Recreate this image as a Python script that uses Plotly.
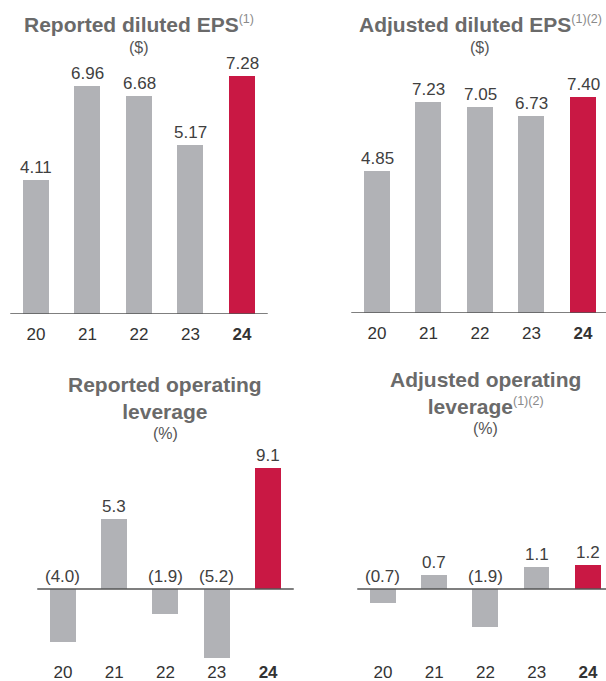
import plotly.graph_objects as go

years = ["20", "21", "22", "23", "24"]
tick_text = ["20", "21", "22", "23", "<b>24</b>"]

reported_eps = [4.11, 6.96, 6.68, 5.17, 7.28]
adjusted_eps = [4.85, 7.23, 7.05, 6.73, 7.40]
reported_lev = [-4.0, 5.3, -1.9, -5.2, 9.1]
adjusted_lev = [-0.7, 0.7, -1.9, 1.1, 1.2]

eps_labels_rep = ["4.11", "6.96", "6.68", "5.17", "7.28"]
eps_labels_adj = ["4.85", "7.23", "7.05", "6.73", "7.40"]
lev_labels_rep = ["(4.0)", "5.3", "(1.9)", "(5.2)", "9.1"]
lev_labels_adj = ["(0.7)", "0.7", "(1.9)", "1.1", "1.2"]

titles = [
    ("Reported diluted EPS", "(1)", "($)"),
    ("Adjusted diluted EPS", "(1)(2)", "($)"),
    ("Reported operating<br>leverage", "", "(%)"),
    ("Adjusted operating<br>leverage", "(1)(2)", "(%)"),
]

GRAY = "#b1b2b6"
RED = "#c91844"
FONT = "Liberation Sans, Arial, sans-serif"
W, H = 606, 681

def px_x(p):
    return p / W

def px_y(p):
    return 1 - p / H

panels = [
    dict(data=reported_eps, labels=eps_labels_rep, xl=10.25, xr=267.75, xmax=4.5,
         yt=64, yb=314, yr=[0, 250 / 32.7], tick_len=5),
    dict(data=adjusted_eps, labels=eps_labels_adj, xl=351.25, xr=606, xmax=4.5 - 2.75 / 51.5,
         yt=64, yb=313, yr=[0, 249 / 29.2], tick_len=5),
    dict(data=reported_lev, labels=lev_labels_rep, xl=37.25, xr=293.75, xmax=4.5,
         yt=450, yb=660, yr=[-71 / 13.3, 139 / 13.3], tick_len=0),
    dict(data=adjusted_lev, labels=lev_labels_adj, xl=357.25, xr=606, xmax=4.5 - 7.75 / 51.5,
         yt=450, yb=660, yr=[-71 / 20.0, 139 / 20.0], tick_len=0),
]

fig = go.Figure()
annotations = []
shapes = []

for i, p in enumerate(panels):
    n = "" if i == 0 else str(i + 1)
    xa, ya = "x" + n, "y" + n
    colors = [GRAY] * 4 + [RED]
    fig.add_trace(go.Bar(
        x=years, y=p["data"], marker=dict(color=colors, line=dict(width=0)),
        width=0.505, xaxis=xa, yaxis=ya, showlegend=False, hoverinfo="skip",
    ))
    for j, (v, lab) in enumerate(zip(p["data"], p["labels"])):
        annotations.append(dict(
            x=j, y=max(v, 0), xref=xa, yref=ya, text=lab, showarrow=False,
            yanchor="bottom", yshift=1,
            font=dict(family=FONT, size=17, color="#404040"),
        ))
    shapes.append(dict(
        type="line", xref=xa + " domain", yref=ya, x0=0, x1=1, y0=0, y1=0,
        line=dict(color="#555555", width=1.6), layer="above",
    ))
    fig.update_layout(**{
        ("xaxis" + n): dict(
            domain=[px_x(p["xl"]), px_x(p["xr"])], range=[-0.5, p["xmax"]],
            anchor=ya, type="category", tickvals=years, ticktext=tick_text,
            ticks="outside" if p["tick_len"] else "", ticklen=max(p["tick_len"], 1),
            tickcolor="rgba(0,0,0,0)",
            showline=False, showgrid=False, zeroline=False, fixedrange=True,
            tickfont=dict(family=FONT, size=17, color="#333333"),
        ),
        ("yaxis" + n): dict(
            domain=[px_y(p["yb"]), px_y(p["yt"])], range=p["yr"], anchor=xa,
            visible=False, showgrid=False, zeroline=False, fixedrange=True,
        ),
    })

title_pos = [
    (139, 24, 48),
    (480, 24, 48),
    (165, 384, 434),
    (485.5, 379, 428),
]
for (main, sup, unit), (cx, ty, uy) in zip(titles, title_pos):
    sup_html = ""
    if sup:
        sup_html = ("<sup><span style='font-size:12.5px;font-weight:normal;color:#8a8a8a'>"
                    + sup + "</span></sup>")
    lines = ["<b>" + l + "</b>" for l in main.split("<br>")]
    text = "<br>".join(lines) + sup_html
    nlines = len(lines)
    annotations.append(dict(
        x=px_x(cx), y=px_y(ty), xref="paper", yref="paper", text=text,
        showarrow=False, xanchor="center", yanchor="middle" if nlines == 1 else "top",
        yshift=0 if nlines == 1 else 13,
        font=dict(family=FONT, size=21, color="#6a6a6a"),
    ))
    annotations.append(dict(
        x=px_x(cx), y=px_y(uy), xref="paper", yref="paper", text=unit,
        showarrow=False, xanchor="center", yanchor="middle",
        font=dict(family=FONT, size=16, color="#555555"),
    ))

fig.update_layout(
    width=W, height=H, margin=dict(l=0, r=0, t=0, b=0),
    paper_bgcolor="white", plot_bgcolor="rgba(0,0,0,0)",
    annotations=annotations, shapes=shapes, bargap=0,
)

fig.write_html(
    "out.html",
    config={"displayModeBar": False},
    post_script="document.body.style.margin='0';document.body.style.overflow='hidden';",
)
